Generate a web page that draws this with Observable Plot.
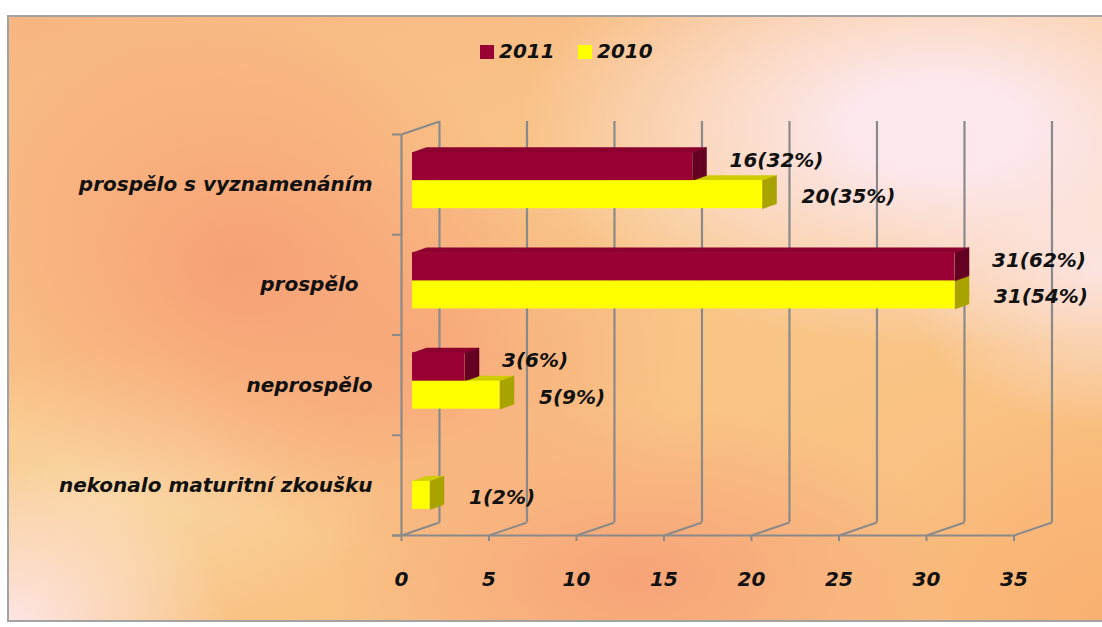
<!DOCTYPE html>
<html><head><meta charset="utf-8">
<script src="https://cdn.jsdelivr.net/npm/d3@7"></script>
<script src="https://cdn.jsdelivr.net/npm/@observablehq/plot@0.6"></script>
<style>
html,body{margin:0;padding:0;background:#fff;width:1102px;height:627px;overflow:hidden;}
#frame{position:absolute;left:7px;top:15px;width:1096px;height:607px;box-sizing:border-box;
 border:2px solid #a3a3a3;border-right:none;
 background:
  radial-gradient(ellipse 420px 220px at 930px 110px, rgba(253,232,238,1) 20%, rgba(253,232,238,0)),
  radial-gradient(ellipse 200px 160px at 1090px 250px, rgba(252,228,226,0.9), rgba(252,228,226,0)),
  radial-gradient(ellipse 220px 160px at 0px 607px, rgba(253,230,230,1), rgba(253,230,230,0)),
  radial-gradient(ellipse 300px 250px at 230px 250px, rgba(247,160,118,1), rgba(247,160,118,0)),
  radial-gradient(ellipse 260px 200px at 420px 340px, rgba(247,168,122,0.9), rgba(247,168,122,0)),
  radial-gradient(ellipse 320px 170px at 630px 560px, rgba(247,163,120,1), rgba(247,163,120,0)),
  radial-gradient(ellipse 260px 240px at 1100px 600px, rgba(249,176,112,1), rgba(249,176,112,0)),
  radial-gradient(ellipse 260px 140px at 120px 470px, rgba(250,215,165,1), rgba(250,215,165,0)),
  linear-gradient(160deg, #f8b682 0%, #f9c688 40%, #f9c586 60%, #f9bd80 100%);}
#chart{position:absolute;left:8px;top:16px;}
#legend{position:absolute;left:0;top:0;font-family:"DejaVu Sans";font-weight:bold;font-style:italic;font-size:20px;color:#111;}
#legend .sw{position:absolute;width:14px;height:14px;top:45px;}
#legend .lb{position:absolute;top:39px;line-height:24px;}
</style></head>
<body>
<div id="frame"></div>
<div id="legend"></div>
<div id="chart"></div>
<script>
const categories = ["prospělo s vyznamenáním", "prospělo\u00a0\u00a0", "neprospělo", "nekonalo maturitní zkoušku"];
const seriesNames = ["2011", "2010"];
const values2011 = [16, 31, 3, 0];
const values2010 = [20, 31, 5, 1];
const labels2011 = ["16(32%)", "31(62%)", "3(6%)", null];
const labels2010 = ["20(35%)", "31(54%)", "5(9%)", "1(2%)"];
const xTicks = [0, 5, 10, 15, 20, 25, 30, 35];

const COLORS = {
  "2011": {front: "#990033", top: "#8c002f", side: "#640021"},
  "2010": {front: "#ffff00", top: "#cfcc00", side: "#a9a300"}
};
// 3D depth in data units
const WALL_DX = 2.17, WALL_DY = 0.13;
const OFF_DX = 0.63, OFF_DY = 0.04;
const BAR_DX = 0.8, BAR_DY = 0.05;

const bars = [];
categories.forEach((c, i) => {
  bars.push({series: "2010", i, v: values2010[i], label: labels2010[i], y1: i + 0.50 - OFF_DY, y2: i + 0.78 - OFF_DY});
});
categories.forEach((c, i) => {
  bars.push({series: "2011", i, v: values2011[i], label: labels2011[i], y1: i + 0.22 - OFF_DY, y2: i + 0.50 - OFF_DY});
});
const shown = bars.filter(d => d.v > 0);

const polys = [];
["top", "side"].forEach(face => {
  shown.forEach((b, k) => {
    const x0 = OFF_DX, x1 = b.v + OFF_DX;
    const col = COLORS[b.series][face];
    const id = face + k;
    let pts;
    if (face === "top") pts = [[x0, b.y1], [x1, b.y1], [x1 + BAR_DX, b.y1 - BAR_DY], [x0 + BAR_DX, b.y1 - BAR_DY], [x0, b.y1]];
    else pts = [[x1, b.y1], [x1, b.y2], [x1 + BAR_DX, b.y2 - BAR_DY], [x1 + BAR_DX, b.y1 - BAR_DY], [x1, b.y1]];
    pts.forEach(p => polys.push({id, x: p[0], y: p[1], col}));
  });
});

const grid = "#8a8a8a";
const font = {fontFamily: "DejaVu Sans", fontSize: 20, fontWeight: "bold", fontStyle: "italic"};

const chart = Plot.plot({
  width: 1092, height: 606,
  marginLeft: 393, marginRight: 86.5, marginTop: 118, marginBottom: 87,
  style: {background: "transparent", fontFamily: "DejaVu Sans", fontSize: "20px", overflow: "visible", color: "#111"},
  x: {domain: [0, 35], axis: null},
  y: {domain: [0, 4], reverse: true, axis: null},
  color: {type: "identity"},
  marks: [
    // back wall gridlines
    Plot.ruleX(xTicks, {x: d => d + WALL_DX, y1: -WALL_DY, y2: 4 - WALL_DY, stroke: grid, strokeWidth: 2.2}),
    // floor diagonals
    Plot.link(xTicks, {x1: d => d, y1: 4, x2: d => d + WALL_DX, y2: 4 - WALL_DY, stroke: grid, strokeWidth: 2}),
    // left wall top diagonal
    Plot.link([0], {x1: 0, y1: 0, x2: WALL_DX, y2: -WALL_DY, stroke: grid, strokeWidth: 2}),
    // left wall front edge
    Plot.ruleX([0], {y1: 0, y2: 4, stroke: grid, strokeWidth: 2.2}),
    // front floor edge
    Plot.ruleY([4], {x1: -0.5, x2: 35, stroke: grid, strokeWidth: 2.2}),
    // y stubs
    Plot.axisY({ticks: [0, 1, 2, 3, 4], tickSize: 9, tickFormat: () => "", label: null, stroke: grid, strokeWidth: 2}),
    // x ticks
    Plot.axisX({ticks: xTicks, anchor: "bottom", tickSize: 6, tickPadding: 30, label: null, stroke: grid, strokeWidth: 2, ...font, fill: "#111"}),
    Plot.axisY({ticks: [0.5, 1.5, 2.5, 3.5], tickFormat: t => categories[Math.floor(t)], tickSize: 0, tickPadding: 29, label: null, ...font, fill: "#111"}),
    // bar top & side faces
    Plot.line(polys, {x: "x", y: "y", z: "id", fill: "col", stroke: "col", strokeWidth: 0.5, curve: "linear"}),
    // bar front faces
    Plot.rect(shown, {x1: d => OFF_DX, x2: d => d.v + OFF_DX, y1: "y1", y2: "y2", fill: d => COLORS[d.series].front}),
    // value labels
    Plot.text(shown.filter(d => d.label && d.series === "2011"), {x: d => d.v + OFF_DX + BAR_DX, y: d => (d.y1 + d.y2) / 2, text: "label", dx: 23, dy: -6, textAnchor: "start", ...font, fill: "#111"}),
    Plot.text(shown.filter(d => d.label && d.series === "2010"), {x: d => d.v + OFF_DX + BAR_DX, y: d => (d.y1 + d.y2) / 2, text: "label", dx: 25, dy: 2, textAnchor: "start", ...font, fill: "#111"})
  ]
});
document.getElementById("chart").appendChild(chart);

// legend
const lg = document.getElementById("legend");
const legendPos = {"2011": 480, "2010": 578};
seriesNames.forEach(s => {
  const sw = document.createElement("div");
  sw.className = "sw"; sw.style.left = legendPos[s] + "px"; sw.style.background = COLORS[s].front;
  const lb = document.createElement("div");
  lb.className = "lb"; lb.style.left = (legendPos[s] + 19) + "px"; lb.textContent = s;
  lg.appendChild(sw); lg.appendChild(lb);
});
</script>
</body></html>
